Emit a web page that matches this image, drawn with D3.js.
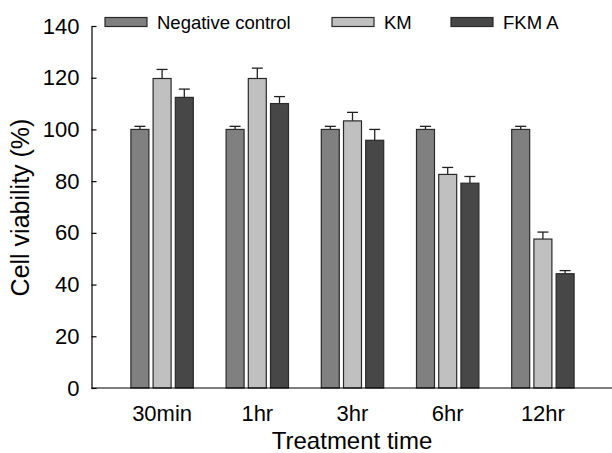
<!DOCTYPE html>
<html>
<head>
<meta charset="utf-8">
<script src="https://cdn.jsdelivr.net/npm/d3@7"></script>
<style>
  body { margin: 0; background: #fff; }
  text { font-family: "Liberation Sans", Arial, sans-serif; fill: #000; }
</style>
</head>
<body>
<div id="root"></div>
<script>
// Data
const categories = ["30min", "1hr", "3hr", "6hr", "12hr"];
const series = ["Negative control", "KM", "FKM A"];
const controlValues = [100, 100, 100, 100, 100];
const controlErrors = [1.2, 1.2, 1.2, 1.2, 1.2];
const kmValues = [119.7, 119.7, 103.3, 82.6, 57.6];
const kmErrors = [3.5, 4.0, 3.3, 2.7, 2.7];
const fkmValues = [112.4, 110.0, 95.8, 79.2, 44.2];
const fkmErrors = [3.2, 2.7, 4.2, 2.6, 1.2];
const yTicks = [0, 20, 40, 60, 80, 100, 120, 140];

const colors = ["#808080", "#c0c0c0", "#474747"];
const allValues = [controlValues, kmValues, fkmValues];
const allErrors = [controlErrors, kmErrors, fkmErrors];

const w = 612, h = 453;
const svg = d3.select("#root").append("svg")
  .attr("width", w)
  .attr("height", h);

const axisX = 91.5, plotBottom = 388, plotTop = 26;

const y = d3.scaleLinear().domain([0, 140]).range([plotBottom, plotTop]);
const x = d3.scaleBand().domain(categories).range([114.5, 590.5]);
const xInner = d3.scaleBand().domain(series).range([-31.2, 31.2]).paddingInner(0.19);

// bars
const rows = [];
categories.forEach((c, i) => {
  series.forEach((s, j) => {
    rows.push({ cat: c, s, j, value: allValues[j][i], err: allErrors[j][i] });
  });
});

const g = svg.append("g");

// error bars (drawn first so bar outline sits on top)
const eb = g.selectAll(".err").data(rows).enter().append("g")
  .attr("transform", d => `translate(${x(d.cat) + x.bandwidth() / 2 + xInner(d.s) + xInner.bandwidth() / 2},0)`)
  .attr("stroke", "#222")
  .attr("stroke-width", 1.3);
eb.append("line")
  .attr("x1", 0).attr("x2", 0)
  .attr("y1", d => y(d.value))
  .attr("y2", d => y(d.value + d.err));
eb.append("line")
  .attr("x1", -5.5).attr("x2", 5.5)
  .attr("y1", d => y(d.value + d.err))
  .attr("y2", d => y(d.value + d.err));

g.selectAll(".bar").data(rows).enter().append("rect")
  .attr("x", d => x(d.cat) + x.bandwidth() / 2 + xInner(d.s))
  .attr("y", d => y(d.value))
  .attr("width", xInner.bandwidth())
  .attr("height", d => plotBottom - y(d.value))
  .attr("fill", d => colors[d.j])
  .attr("stroke", "#2a2a2a")
  .attr("stroke-width", 1.2);

// y axis, ticks pointing inward
const yAxis = svg.append("g")
  .attr("transform", `translate(${axisX},0)`)
  .call(d3.axisLeft(y).tickValues(yTicks).tickSizeInner(-5).tickSizeOuter(0).tickPadding(12));
yAxis.select(".domain").attr("stroke", "#000").attr("stroke-width", 1.2);
yAxis.selectAll(".tick line").attr("stroke", "#000").attr("stroke-width", 1.2);
yAxis.selectAll(".tick text")
  .style("font-size", "22px")
  .style("font-family", "Liberation Sans, Arial, sans-serif")
  .attr("fill", "#000");

// x axis line
svg.append("line")
  .attr("x1", axisX).attr("x2", w)
  .attr("y1", plotBottom).attr("y2", plotBottom)
  .attr("stroke", "#000").attr("stroke-width", 1.2);

svg.selectAll(".xlab").data(categories).enter().append("text")
  .attr("x", d => x(d) + x.bandwidth() / 2)
  .attr("y", 421)
  .attr("text-anchor", "middle")
  .style("font-size", "22px")
  .text(d => d);

// axis titles
svg.append("text")
  .attr("x", 352)
  .attr("y", 449)
  .attr("text-anchor", "middle")
  .style("font-size", "24px")
  .text("Treatment time");

svg.append("text")
  .attr("transform", `translate(28.5,207.5) rotate(-90)`)
  .attr("text-anchor", "middle")
  .style("font-size", "25px")
  .text("Cell viability (%)");

// legend
const legendX = [105, 332, 451];
const legend = svg.selectAll(".leg").data(series).enter().append("g")
  .attr("transform", (d, i) => `translate(${legendX[i]},17.5)`);
legend.append("rect")
  .attr("width", 42)
  .attr("height", 9)
  .attr("fill", (d, i) => colors[i])
  .attr("stroke", "#2a2a2a")
  .attr("stroke-width", 1.2);
legend.append("text")
  .attr("x", 52)
  .attr("y", 11)
  .style("font-size", "18.5px")
  .text(d => d);
</script>
</body>
</html>
